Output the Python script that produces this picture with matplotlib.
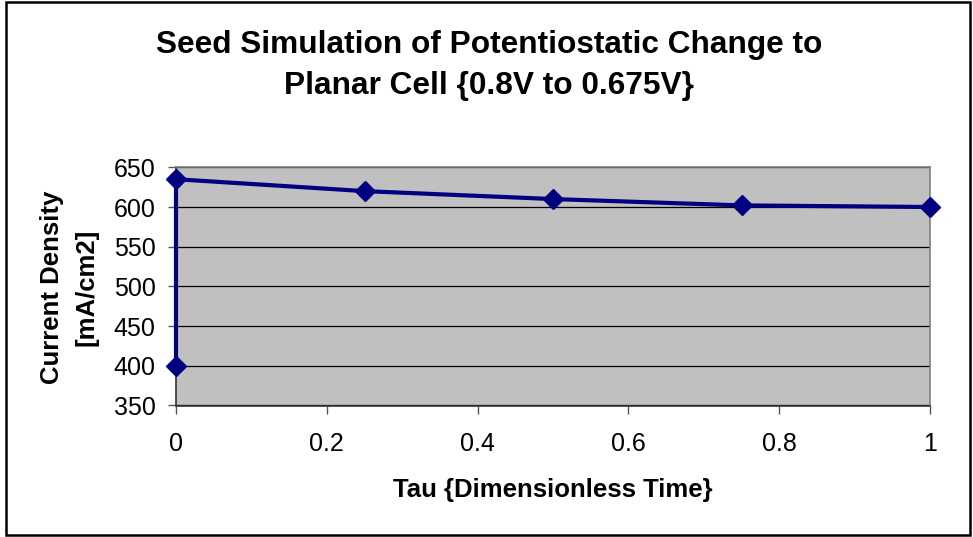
import matplotlib
matplotlib.use("Agg")
import matplotlib.pyplot as plt
from matplotlib.patches import Rectangle

# Simulated current-density response after the potential step
tau = [0.0, 0.0, 0.25, 0.5, 0.75, 1.0]
current_density = [400, 635, 620, 610, 602, 600]

x_ticks = [0, 0.2, 0.4, 0.6, 0.8, 1]
x_tick_labels = ["0", "0.2", "0.4", "0.6", "0.8", "1"]
y_ticks = [350, 400, 450, 500, 550, 600, 650]

title_lines = ["Seed Simulation of Potentiostatic Change to",
               "Planar Cell {0.8V to 0.675V}"]
x_label = "Tau {Dimensionless Time}"
y_label_lines = ["Current Density", "[mA/cm2]"]

plt.rcParams["font.family"] = ["Liberation Sans", "DejaVu Sans"]

W, H, DPI = 973, 537, 100
fig = plt.figure(figsize=(W / DPI, H / DPI), dpi=DPI)
fig.patch.set_facecolor("white")


def fx(px):
    return px / W


def fy(py):
    return 1 - py / H


# Outer chart frame
fig.patches.append(Rectangle((fx(6), fy(535)), (970 - 6) / W, (535 - 2) / H,
                             transform=fig.transFigure, fill=False,
                             edgecolor="black", linewidth=1.8))

ax = fig.add_axes([fx(176), fy(405.5), (930 - 176) / W, (405.5 - 167.3) / H])
ax.set_facecolor("#C0C0C0")

ax.plot(tau, current_density, color="#000080", linewidth=3,
        marker="D", markersize=10, markerfacecolor="#000080",
        markeredgecolor="#000080", clip_on=False, zorder=5)

ax.set_xlim(0, 1)
ax.set_ylim(350, 650)
ax.set_xticks(x_ticks)
ax.set_xticklabels(x_tick_labels)
ax.set_yticks(y_ticks)

ax.yaxis.grid(True, color="black", linewidth=0.9)
ax.set_axisbelow(True)

for side in ("top", "right"):
    ax.spines[side].set_color("#808080")
    ax.spines[side].set_linewidth(1.2)
for side in ("left", "bottom"):
    ax.spines[side].set_color("#333333")
    ax.spines[side].set_linewidth(1.2)

ax.tick_params(axis="both", direction="out", length=5.8, width=1,
               color="#555555", labelsize=18, labelcolor="black")
ax.tick_params(axis="x", pad=13)
ax.tick_params(axis="y", pad=9)

# Axis titles
fig.text(fx(553), fy(497), x_label, fontsize=18.5, fontweight="bold",
         ha="center", va="baseline")
fig.text(fx(52.5), fy(287), y_label_lines[0], rotation=90, fontsize=18.5,
         fontweight="bold", ha="center", va="center")
fig.text(fx(87), fy(287), y_label_lines[1], rotation=90, fontsize=18.5,
         fontweight="bold", ha="center", va="center")

# Chart title
fig.text(fx(489), fy(53), title_lines[0], fontsize=22.8, fontweight="bold",
         ha="center", va="baseline")
fig.text(fx(489), fy(94), title_lines[1], fontsize=22.8, fontweight="bold",
         ha="center", va="baseline")

fig.savefig("out.png", dpi=DPI, facecolor="white")
